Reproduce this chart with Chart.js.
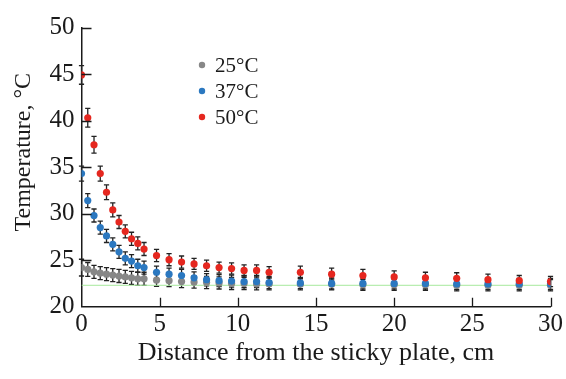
<!DOCTYPE html>
<html>
<head>
<meta charset="utf-8">
<script src="https://cdn.jsdelivr.net/npm/chart.js@4"></script>
<style>
  html, body { margin: 0; padding: 0; background: #fff; }
  #wrap { width: 566px; height: 379px; }
</style>
</head>
<body>
<div id="wrap"><canvas id="chart" width="566" height="379"></canvas></div>
<script>
// distance from the sticky plate, cm
const distance = [0, 0.4, 0.8, 1.2, 1.6, 2.0, 2.4, 2.8, 3.2, 3.6, 4.0,
  4.8, 5.6, 6.4, 7.2, 8.0, 8.8, 9.6, 10.4, 11.2, 12,
  14, 16, 18, 20, 22, 24, 26, 28, 30];

// temperature, °C
const t25 = [24.2, 24.0, 23.75, 23.6, 23.5, 23.4, 23.3, 23.2, 23.1, 23.0, 23.0,
  22.85, 22.8, 22.7, 22.65, 22.6, 22.55, 22.5, 22.5, 22.45, 22.45,
  22.4, 22.4, 22.35, 22.35, 22.35, 22.3, 22.3, 22.3, 22.3];
const t37 = [34.3, 31.4, 29.8, 28.5, 27.6, 26.7, 25.9, 25.2, 24.9, 24.4, 24.2,
  23.7, 23.5, 23.35, 23.1, 22.9, 22.8, 22.75, 22.7, 22.7, 22.6,
  22.55, 22.5, 22.5, 22.5, 22.5, 22.45, 22.45, 22.45, 22.45];
const t50 = [44.9, 40.3, 37.4, 34.3, 32.3, 30.4, 29.1, 28.1, 27.3, 26.8, 26.2,
  25.5, 25.05, 24.8, 24.6, 24.4, 24.2, 24.1, 23.9, 23.9, 23.7,
  23.7, 23.5, 23.35, 23.2, 23.1, 23.05, 22.9, 22.8, 22.7];

// error bars (±)
const e25 = [0.9, 0.75, 0.7, 0.7, 0.7, 0.7, 0.7, 0.7, 0.7, 0.7, 0.7,
  0.65, 0.65, 0.65, 0.65, 0.65, 0.65, 0.65, 0.65, 0.65, 0.65,
  0.6, 0.6, 0.6, 0.6, 0.6, 0.6, 0.6, 0.6, 0.6];
const e37 = [0.8, 0.75, 0.7, 0.7, 0.7, 0.7, 0.7, 0.7, 0.7, 0.7, 0.7,
  0.65, 0.65, 0.65, 0.65, 0.65, 0.65, 0.65, 0.65, 0.65, 0.65,
  0.6, 0.6, 0.6, 0.6, 0.6, 0.6, 0.6, 0.6, 0.6];
const e50 = [1.0, 1.0, 0.9, 0.8, 0.8, 0.75, 0.7, 0.7, 0.7, 0.7, 0.7,
  0.65, 0.65, 0.65, 0.6, 0.6, 0.6, 0.6, 0.6, 0.6, 0.6,
  0.65, 0.65, 0.65, 0.65, 0.6, 0.6, 0.6, 0.55, 0.55];

const seriesLabels = ["25°C", "37°C", "50°C"];
const ambient = 22.3;   // green reference line
const xTicks = [0, 5, 10, 15, 20, 25, 30];
const yTicks = [20, 25, 30, 35, 40, 45, 50];
const yTitle = "Temperature, °C";

const serif = "'Liberation Serif', 'DejaVu Serif', serif";
const ink = "#1a1a1a";

const pts = (ys) => distance.map((d, i) => ({ x: d, y: ys[i] }));

// vertical error bars with caps
const errorBars = {
  id: "errorBars",
  beforeDatasetsDraw(chart) {
    const { ctx, scales: { x, y } } = chart;
    ctx.save();
    ctx.strokeStyle = "#222";
    ctx.lineWidth = 1.3;
    chart.data.datasets.forEach((ds) => {
      if (!ds.err) return;
      ds.data.forEach((p, i) => {
        const px = x.getPixelForValue(p.x);
        const top = y.getPixelForValue(p.y + ds.err[i]);
        const bot = y.getPixelForValue(p.y - ds.err[i]);
        ctx.beginPath();
        ctx.moveTo(px, top); ctx.lineTo(px, bot);
        ctx.moveTo(px - 2.6, top); ctx.lineTo(px + 2.6, top);
        ctx.moveTo(px - 2.6, bot); ctx.lineTo(px + 2.6, bot);
        ctx.stroke();
      });
    });
    ctx.restore();
  },
};

// inward tick marks + y title (sits a bit above the axis centre)
const innerTicks = {
  id: "innerTicks",
  afterDraw(chart) {
    const { ctx, chartArea: a, scales: { x, y } } = chart;
    ctx.save();
    ctx.strokeStyle = ink;
    ctx.lineWidth = 1.3;
    ctx.beginPath();
    x.ticks.forEach((t) => {
      if (t.value === 0) return;
      const px = Math.round(x.getPixelForValue(t.value)) + 0.5;
      ctx.moveTo(px, a.bottom); ctx.lineTo(px, a.bottom - 9);
    });
    y.ticks.forEach((t) => {
      if (t.value === 20) return;
      const py = Math.round(y.getPixelForValue(t.value)) + 0.5;
      ctx.moveTo(a.left, py); ctx.lineTo(a.left + 10, py);
    });
    ctx.stroke();

    ctx.translate(24, y.getPixelForValue(36.6));
    ctx.rotate(-Math.PI / 2);
    ctx.font = "24px " + serif;
    ctx.fillStyle = ink;
    ctx.textAlign = "center";
    ctx.textBaseline = "middle";
    ctx.fillText(yTitle, 0, 0);
    ctx.restore();
  },
};

// legend inside the plot
const innerLegend = {
  id: "innerLegend",
  afterDraw(chart) {
    const { ctx } = chart;
    ctx.save();
    ctx.font = "21px " + serif;
    ctx.textBaseline = "middle";
    chart.data.datasets.filter((d) => d.err).forEach((ds, i) => {
      const yy = 65 + i * 26;
      ctx.fillStyle = ds.backgroundColor;
      ctx.beginPath();
      ctx.arc(202, yy, 3.2, 0, Math.PI * 2);
      ctx.fill();
      ctx.fillStyle = ink;
      ctx.fillText(ds.label, 215, yy + 1);
    });
    ctx.restore();
  },
};

new Chart(document.getElementById("chart"), {
  type: "scatter",
  data: {
    datasets: [
      { label: seriesLabels[0], data: pts(t25), err: e25, order: 3,
        backgroundColor: "#878787", pointRadius: 3.6, borderWidth: 0 },
      { label: seriesLabels[1], data: pts(t37), err: e37, order: 2,
        backgroundColor: "#2b78c0", pointRadius: 3.6, borderWidth: 0 },
      { label: seriesLabels[2], data: pts(t50), err: e50, order: 1,
        backgroundColor: "#e5271f", pointRadius: 3.6, borderWidth: 0 },
      { type: "line", label: "ambient", order: 4,
        data: [{ x: xTicks[0], y: ambient }, { x: xTicks[xTicks.length - 1], y: ambient }],
        borderColor: "#a6e89c", borderWidth: 1, pointRadius: 0, showLine: true },
    ],
  },
  options: {
    responsive: false,
    animation: false,
    layout: { padding: { top: 27.5, right: 15, left: 0, bottom: 0 } },
    plugins: { legend: { display: false }, tooltip: { enabled: false } },
    scales: {
      x: {
        type: "linear",
        min: 0, max: 30,
        afterBuildTicks: (s) => { s.ticks = xTicks.map((v) => ({ value: v })); },
        afterFit: (s) => { s.height = 72.3; },
        grid: { drawOnChartArea: false, drawTicks: false },
        border: { display: true, color: ink, width: 1.5 },
        ticks: { color: ink, font: { family: serif, size: 25 }, padding: 3, maxRotation: 0 },
        title: {
          display: true, text: "Distance from the sticky plate, cm", color: ink,
          font: { family: serif, size: 26 }, padding: { top: 0, bottom: 10 },
        },
      },
      y: {
        type: "linear",
        min: 20, max: 50,
        afterBuildTicks: (s) => { s.ticks = yTicks.map((v) => ({ value: v })); },
        afterFit: (s) => { s.width = 81.5; },
        grid: { drawOnChartArea: false, drawTicks: false },
        border: { display: true, color: ink, width: 1.5 },
        ticks: { color: ink, font: { family: serif, size: 25 }, padding: 7 },
        title: { display: false },
      },
    },
  },
  plugins: [errorBars, innerTicks, innerLegend],
});
</script>
</body>
</html>
